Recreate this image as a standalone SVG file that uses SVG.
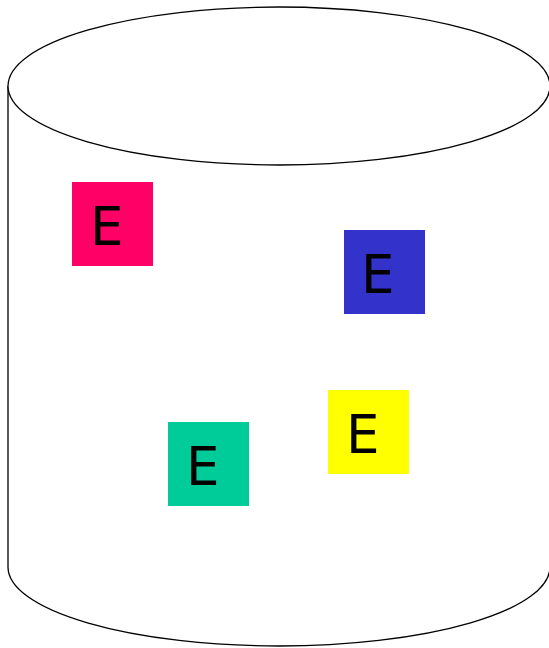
<svg xmlns="http://www.w3.org/2000/svg" width="549" height="648" viewBox="0 0 549 648">
<style>
.cyl{fill:#fff;stroke:#000;stroke-width:1.3}
.lbl{font-family:"DejaVu Sans",sans-serif;font-size:53px;fill:#000}
</style>
<rect width="549" height="648" fill="#fff"/>
<g id="cylinder">
<path class="cyl" d="M8,86 A271,79 0 0 1 550,86 V567 A271,79 0 0 1 8,567 Z"/>
<path class="cyl" fill="none" d="M8,86 A271,79 0 0 0 550,86"/>
</g>
<g id="e-pink"><rect x="72" y="182" width="81" height="84" fill="#ff0066"/><text class="lbl" x="90" y="245">E</text></g>
<g id="e-blue"><rect x="344" y="230" width="81" height="84" fill="#3333cc"/><text class="lbl" x="361" y="293">E</text></g>
<g id="e-yellow"><rect x="328" y="390" width="81" height="84" fill="#ffff00"/><text class="lbl" x="346" y="453">E</text></g>
<g id="e-green"><rect x="168" y="422" width="81" height="84" fill="#00cc99"/><text class="lbl" x="186" y="485">E</text></g>
<g id="connectors"/>
</svg>
